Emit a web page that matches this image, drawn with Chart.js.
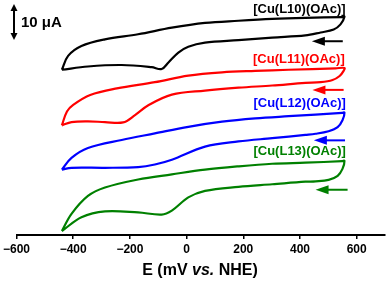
<!DOCTYPE html>
<html>
<head>
<meta charset="utf-8">
<script src="https://cdn.jsdelivr.net/npm/chart.js@4/dist/chart.umd.min.js"></script>
<style>
html,body{margin:0;padding:0;background:#fff;}
#wrap{width:387px;height:284px;position:relative;}
</style>
</head>
<body>
<div id="wrap"><canvas id="c" width="387" height="284"></canvas></div>
<script>
// Potential (mV vs. NHE) and current (μA, offset) for each CV loop
const l10E = [-440,-418,-371,-288,-171,-52,65,183,302,419,549,557,543,519,473,419,302,183,65,6,-29,-64,-88,-123,-229,-348,-440];
const l10I = [45.2,49.0,51.7,53.5,54.9,56.7,58.0,58.6,59.1,59.4,59.6,59.7,57.6,56.2,55.4,54.6,54.0,53.3,52.6,51.5,49.9,47.2,45.4,45.9,46.5,46.1,45.2];

const l11E = [-440,-422,-400,-340,-246,-112,6,125,242,360,526,557,554,540,515,473,419,302,183,65,-52,-135,-182,-224,-288,-348,-406,-440];
const l11I = [30.0,33.8,35.6,38.3,40.1,41.8,43.6,44.5,44.9,45.2,45.6,45.7,44.9,43.5,42.4,41.8,41.6,40.9,40.3,39.5,38.4,35.5,32.8,30.8,30.9,31.1,30.9,30.0];

const l12E = [-440,-406,-348,-229,-112,6,125,242,360,549,557,550,533,501,455,419,302,183,65,-52,-112,-171,-288,-406,-440];
const l12I = [17.9,21.1,23.8,26.0,27.8,29.6,31.0,31.9,32.5,33.4,33.5,31.4,29.5,28.4,27.7,27.4,26.5,25.6,24.2,20.6,19.3,18.6,18.4,18.4,17.9];

const l13E = [-440,-406,-348,-288,-171,-52,65,183,302,419,549,557,550,533,501,455,419,302,183,65,6,-52,-88,-171,-288,-371,-440];
const l13I = [1.1,5.8,10.7,13.0,15.2,16.6,17.9,18.8,19.5,19.8,20.2,20.3,18.1,16.2,15.1,14.7,14.6,13.9,13.2,12.1,10.3,6.7,5.6,6.2,6.5,4.9,1.1];

const seriesNames = ['[Cu(L10)(OAc)]','[Cu(L11)(OAc)]','[Cu(L12)(OAc)]','[Cu(L13)(OAc)]'];
const seriesColors = ['#000000','#ff0000','#0000ff','#008000'];
// label anchor (right end, mV) and vertical position (μA)
const labelE = [561,558,562,562];
const labelI = [61.6,48.1,35.9,23.0];
// scan-direction arrows: start/end potential (mV), current (μA)
const arrowE1 = [442,444,449,455];
const arrowE2 = [551,554,559,568];
const arrowI = [53.0,39.7,25.9,12.4];
const xTicks = [-600,-400,-200,0,200,400,600];

function pts(E, I){ return E.map((e,i)=>({x:e, y:I[i]})); }
const allE = [l10E,l11E,l12E,l13E];
const allI = [l10I,l11I,l12I,l13I];

const datasets = allE.map((E,k)=>({
  label: seriesNames[k],
  data: pts(E, allI[k]),
  showLine: true,
  borderColor: seriesColors[k],
  backgroundColor: seriesColors[k],
  borderWidth: 2.2,
  pointRadius: 0,
  tension: 0.35,
  fill: false
}));

const overlay = {
  id: 'overlay',
  afterDatasetsDraw(chart){
    const ctx = chart.ctx;
    const xs = chart.scales.x, ys = chart.scales.y;
    ctx.save();
    // labels
    ctx.font = 'bold 13px "Liberation Sans", Arial, sans-serif';
    ctx.textAlign = 'right';
    ctx.textBaseline = 'middle';
    for (let k=0;k<4;k++){
      ctx.fillStyle = seriesColors[k];
      ctx.fillText(seriesNames[k], xs.getPixelForValue(labelE[k]), ys.getPixelForValue(labelI[k]));
    }
    // arrows
    for (let k=0;k<4;k++){
      const x1 = xs.getPixelForValue(arrowE1[k]);
      const x2 = xs.getPixelForValue(arrowE2[k]);
      const y = ys.getPixelForValue(arrowI[k]);
      ctx.strokeStyle = seriesColors[k];
      ctx.fillStyle = seriesColors[k];
      ctx.lineWidth = 2;
      ctx.beginPath(); ctx.moveTo(x1+10, y); ctx.lineTo(x2, y); ctx.stroke();
      ctx.beginPath(); ctx.moveTo(x1, y); ctx.lineTo(x1+13, y-4.5); ctx.lineTo(x1+13, y+4.5); ctx.closePath(); ctx.fill();
    }
    // scale bar
    ctx.strokeStyle = '#000'; ctx.fillStyle = '#000'; ctx.lineWidth = 2;
    const bx = 14, by1 = 4, by2 = 40;
    ctx.beginPath(); ctx.moveTo(bx, by1+4); ctx.lineTo(bx, by2-4); ctx.stroke();
    ctx.beginPath(); ctx.moveTo(bx, by1); ctx.lineTo(bx-3.5, by1+7); ctx.lineTo(bx+3.5, by1+7); ctx.closePath(); ctx.fill();
    ctx.beginPath(); ctx.moveTo(bx, by2); ctx.lineTo(bx-3.5, by2-7); ctx.lineTo(bx+3.5, by2-7); ctx.closePath(); ctx.fill();
    ctx.font = 'bold 15px "Liberation Sans", Arial, sans-serif';
    ctx.textAlign = 'left'; ctx.textBaseline = 'middle';
    ctx.fillText('10 μA', 21, 23);
    // axis title with italic "vs."
    const parts = [['bold 16px "Liberation Sans", Arial, sans-serif','E (mV '],
                   ['italic bold 16px "Liberation Sans", Arial, sans-serif','vs.'],
                   ['bold 16px "Liberation Sans", Arial, sans-serif',' NHE)']];
    let w = 0;
    parts.forEach(p=>{ ctx.font = p[0]; w += ctx.measureText(p[1]).width; });
    let x = 200 - w/2;
    const ty = 271;
    ctx.textAlign = 'left'; ctx.textBaseline = 'middle';
    parts.forEach(p=>{ ctx.font = p[0]; ctx.fillText(p[1], x, ty); x += ctx.measureText(p[1]).width; });
    ctx.restore();
  }
};

new Chart(document.getElementById('c'), {
  type: 'scatter',
  data: { datasets },
  options: {
    responsive: false,
    animation: false,
    events: [],
    layout: { padding: { left: 16, right: 2, top: 1, bottom: 24.5 } },
    plugins: { legend: { display: false }, tooltip: { enabled: false } },
    scales: {
      x: {
        type: 'linear',
        min: -600, max: 700,
        afterBuildTicks(scale){ scale.ticks = xTicks.map(v=>({value:v})); },
        ticks: { color: '#000', font: { family: '"Liberation Sans", Arial, sans-serif', size: 12, weight: 'bold' }, padding: 3, maxRotation: 0,
                 callback: v => (v < 0 ? '\u2212' + Math.abs(v) : '' + v) },
        grid: { display: true, drawOnChartArea: false, drawTicks: true, tickLength: 4, color: '#000', lineWidth: 1.5 },
        border: { display: true, color: '#000', width: 2 }
      },
      y: {
        display: false,
        min: 0, max: 64
      }
    }
  },
  plugins: [overlay]
});
</script>
</body>
</html>
